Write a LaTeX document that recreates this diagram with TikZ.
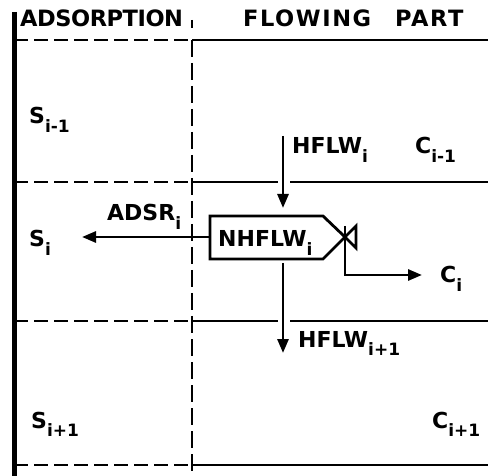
\documentclass[tikz,border=0pt]{standalone}
\usepackage{fontspec}
\setmainfont{DejaVu Sans}
\usetikzlibrary{arrows.meta}

% variable name with a lowered, smaller index
\newcommand{\vn}[2]{#1\raisebox{-9pt}{\fontsize{17}{17}\selectfont #2}}

\begin{document}
\begin{tikzpicture}[x=1pt,y=-1pt,
  txt/.style={inner sep=0pt, anchor=base west, font=\fontsize{22}{22}\selectfont\bfseries},
  head/.style={inner sep=0pt, anchor=base west, font=\fontsize{22.5}{22.5}\selectfont\bfseries},
  wire/.style={line width=2.8pt},
  wall/.style={line width=5pt},
  dashh/.style={line width=2.8pt, dash pattern=on 14pt off 6pt},
  dashv/.style={line width=2.8pt, dash pattern=on 17pt off 6pt},
  flow/.style={line width=2.8pt, -{Triangle[length=14pt,width=11pt]}},
]
\useasboundingbox (0,0) rectangle (488,476);

% column headings
\node[head] (hads) at (20,27) {\addfontfeature{LetterSpace=-2}ADSORPTION};
\node[head] (hflow) at (243,27) {\addfontfeature{LetterSpace=7}FLOWING\hspace{24pt}PART};

% outer wall and column divider
\draw[wall] (14,12) -- (14,476);
\draw[wire] (192,20) -- (192,28);
\draw[dashv] (192,40) -- (192,476);

% layer boundaries: dashed in the adsorption column, solid in the flowing part
\foreach \yy in {40,182,321,465}
  \draw[dashh] (14,\yy) -- (192,\yy);
\draw[wire] (192,40) -- (488,40);
\draw[wire] (192,182) -- (278,182);
\draw[wire] (290,182) -- (488,182);
\draw[wire] (192,321) -- (278,321);
\draw[wire] (290,321) -- (488,321);
\draw[wire] (192,465) -- (488,465);

% balance box and outlet valve
\coordinate (bw) at (210,237);
\coordinate (btop) at (283,216);
\coordinate (bbot) at (283,263);
\coordinate (tip) at (345,237);
\draw[wire, line join=miter] (210,216) -- (323,216) -- (tip) -- (323,259) -- (210,259) -- cycle;
\draw[wire, line join=miter] (tip) -- (356,226) -- (356,248) -- cycle;
\node[txt] (nh) at (218,247) {\vn{NHFLW}{i}};

% labels
\node[txt] (sm) at (29,124) {\vn{S}{i-1}};
\node[txt] (s0) at (29,247) {\vn{S}{i}};
\node[txt] (sp) at (31,428) {\vn{S}{i+1}};
\node[txt] (cm) at (415,154) {\vn{C}{i-1}};
\node[txt] (c0) at (440,283) {\vn{C}{i}};
\node[txt] (cp) at (432,428) {\vn{C}{i+1}};
\node[txt] (hin) at (292,154) {\vn{HFLW}{i}};
\node[txt] (hout) at (298,347) {\vn{HFLW}{i+1}};
\node[txt] (adsr) at (107,221) {\vn{ADSR}{i}};

% flows
\coordinate (inTop) at (283,136);
\coordinate (inEnd) at (283,208);
\coordinate (outEnd) at (283,353);
\coordinate (adsEnd) at (82,237);
\coordinate (vTop) at (345,226);
\coordinate (vBend) at (345,275);
\coordinate (cEnd) at (422,275);
\draw[flow] (inTop) -- (inEnd);
\draw[flow] (bbot) -- (outEnd);
\draw[flow] (bw) -- (adsEnd);
\draw[flow] (vTop) -- (vBend) -- (cEnd);
\end{tikzpicture}
\end{document}
